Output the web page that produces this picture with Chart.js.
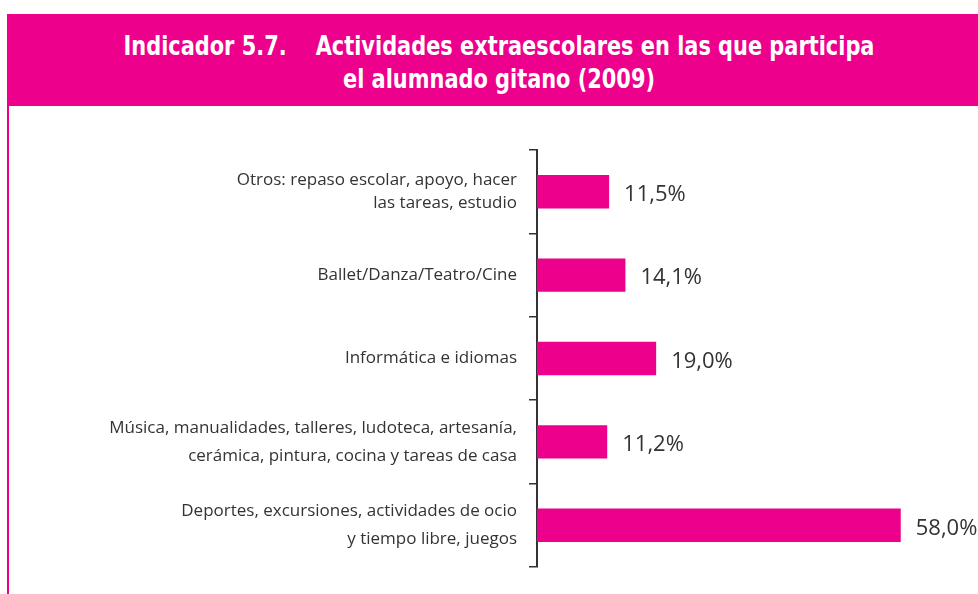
<!DOCTYPE html>
<html lang="es">
<head>
<meta charset="utf-8">
<title>Indicador 5.7. Actividades extraescolares en las que participa el alumnado gitano (2009)</title>
<script src="https://cdn.jsdelivr.net/npm/chart.js@4/dist/chart.umd.min.js"></script>
<style>
  html, body { margin: 0; padding: 0; background: #ffffff; }
  body { width: 978px; height: 594px; position: relative; overflow: hidden; }
  .cabecera {
    position: absolute; left: 7px; top: 14px; width: 971px; height: 92px;
    background: #EC008C;
  }
  .titulo {
    position: absolute; left: 0; width: 998px; text-align: center;
    color: #ffffff; white-space: pre;
    font-family: "Liberation Sans Narrow", "DejaVu Sans Condensed", sans-serif;
    font-weight: bold; font-size: 27px; line-height: 33px;
    transform: scaleX(0.86); transform-origin: 499px 50%;
  }
  .l1 { top: 29px; }
  .l2 { top: 62px; }
  .filete { position: absolute; left: 7px; top: 106px; width: 2px; height: 488px; background: #EC008C; }
  .grafico { position: absolute; left: 9px; top: 106px; width: 969px; height: 488px; }
</style>
</head>
<body>
<div class="cabecera"></div>
<div class="titulo l1">Indicador 5.7.    Actividades extraescolares en las que participa</div>
<div class="titulo l2">el alumnado gitano (2009)</div>
<div class="filete"></div>
<div class="grafico"><canvas id="c"></canvas></div>
<script>
// Activity categories (top to bottom), each split into its printed lines
const categorias = [
  ["Otros: repaso escolar, apoyo, hacer", "las tareas, estudio"],
  "Ballet/Danza/Teatro/Cine",
  "Informática e idiomas",
  ["Música, manualidades, talleres, ludoteca, artesanía,", "cerámica, pintura, cocina y tareas de casa"],
  ["Deportes, excursiones, actividades de ocio", "y tiempo libre, juegos"]
];
// Share of Roma pupils taking part in each activity (%)
const porcentajes = [11.5, 14.1, 19.0, 11.2, 58.0];

const ROSA = "#EC008C";
const TEXTO = "#333333";

const formato = v => v.toFixed(1).replace(".", ",") + "%";

// Writes the percentage to the right of each bar
const etiquetasValor = {
  id: "etiquetasValor",
  afterDatasetsDraw(chart) {
    const ctx = chart.ctx;
    const meta = chart.getDatasetMeta(0);
    ctx.save();
    ctx.font = "22px 'Open Sans', Roboto, sans-serif";
    ctx.fillStyle = TEXTO;
    ctx.textAlign = "left";
    ctx.textBaseline = "middle";
    meta.data.forEach((bar, i) => {
      ctx.fillText(formato(porcentajes[i]), bar.x + 15, bar.y + 3);
    });
    ctx.restore();
  }
};

new Chart(document.getElementById("c"), {
  type: "bar",
  data: {
    labels: categorias,
    datasets: [{
      data: porcentajes,
      backgroundColor: ROSA,
      borderWidth: 0,
      barPercentage: 0.4,
      categoryPercentage: 1.0
    }]
  },
  options: {
    indexAxis: "y",
    responsive: true,
    maintainAspectRatio: false,
    animation: false,
    layout: { padding: { top: 44, bottom: 27, left: 0, right: 2 } },
    plugins: {
      legend: { display: false },
      title: { display: false },
      tooltip: { enabled: false }
    },
    scales: {
      x: {
        display: false,
        min: 0,
        max: 70
      },
      y: {
        afterFit(scale) {
          scale.width = 528;
          scale.paddingTop = 0;
          scale.paddingBottom = 0;
        },
        border: { display: true, color: TEXTO, width: 2 },
        grid: {
          offset: true,
          drawOnChartArea: false,
          drawTicks: true,
          tickLength: 8,
          color: TEXTO,
          lineWidth: 1.5
        },
        ticks: {
          padding: 12,
          color: TEXTO,
          font: (c) => ({
            family: "'Open Sans', Roboto, sans-serif",
            size: 17,
            lineHeight: c.index === 0 ? 1.3 : 1.62
          })
        }
      }
    }
  },
  plugins: [etiquetasValor]
});
</script>
</body>
</html>
